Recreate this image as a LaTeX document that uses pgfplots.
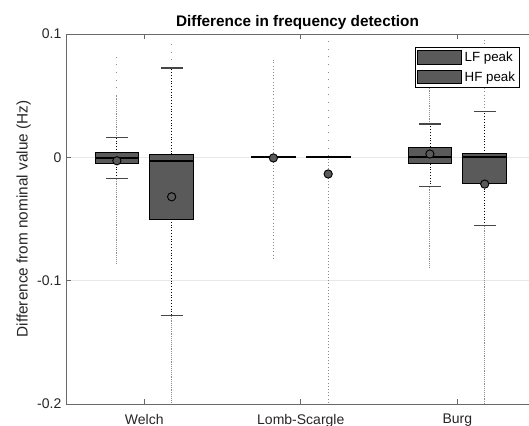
\documentclass[border=0pt]{standalone}
\usepackage{pgfplots}
\pgfplotsset{compat=1.18}
\usepackage{fontspec}
\setmainfont{Liberation Sans}
\definecolor{boxfill}{RGB}{90,90,90}
\definecolor{axgray}{RGB}{105,105,105}
\definecolor{outl}{RGB}{140,140,140}
\definecolor{capc}{RGB}{70,70,70}
\definecolor{txt}{RGB}{38,38,38}
\pgfplotsset{
  whisk/.style={black, line width=0.6pt, dash pattern=on 0.7pt off 1.4pt, forget plot},
  capl/.style={capc, line width=0.8pt, forget plot},
  odense/.style={outl, line width=0.8pt, dash pattern=on 0.6pt off 0.8pt, forget plot},
  omed/.style={outl, line width=0.8pt, dash pattern=on 0.6pt off 1.8pt, forget plot},
  osparse/.style={outl, line width=0.8pt, dash pattern=on 0.7pt off 5pt, forget plot},
  bx/.style={fill=boxfill, draw=black, line width=0.6pt, forget plot},
  med/.style={black, line width=1.3pt, forget plot},
}
\begin{document}
\begin{tikzpicture}
\begin{axis}[
  scale only axis,
  width=347.25pt, height=277.5pt,
  xmin=0.5, xmax=3.458,
  ymin=-0.2, ymax=0.1,
  axis x line*=box, axis y line*=left,
  axis line style={axgray, line width=0.6pt, -},
  tick style={axgray, line width=0.6pt},
  tick align=inside,
  major tick length=3.75pt,
  xtick={1,2,3},
  xticklabels={Welch,Lomb-Scargle,Burg},
  ytick={-0.2,-0.1,0,0.1},
  yticklabels={-0.2,-0.1,0,0.1},
  ymajorgrids,
  major grid style={gray!18, line width=0.6pt},
  tick label style={font=\fontsize{10.5}{12}\selectfont, text=txt},
  xticklabel style={yshift=-4pt},
  title={Difference in frequency detection},
  title style={font=\bfseries\fontsize{11.5}{13}\selectfont, yshift=-6.5pt},
  ylabel={Difference from nominal value (Hz)},
  ylabel style={font=\fontsize{11.5}{13}\selectfont, text=txt, yshift=-2pt},
  legend style={at={(0.9806,0.9657)}, anchor=north east, draw=black, line width=0.5pt,
    font=\fontsize{10}{11}\selectfont, inner sep=1.5pt, row sep=2pt},
  legend cell align=left,
  legend image code/.code={\draw[#1] (0pt,-5pt) rectangle (33pt,5pt);},
]
\addlegendimage{fill=boxfill, draw=black, line width=0.6pt}
\addlegendentry{LF peak}
\addlegendimage{fill=boxfill, draw=black, line width=0.6pt}
\addlegendentry{HF peak}
% outliers (Welch)
\addplot[odense] coordinates {(0.825,0.016) (0.825,0.05)};
\addplot[osparse] coordinates {(0.825,0.05) (0.825,0.085)};
\addplot[odense] coordinates {(0.825,-0.0174) (0.825,-0.087)};
\addplot[osparse] coordinates {(1.175,0.0724) (1.175,0.0925)};
\addplot[odense] coordinates {(1.175,-0.1285) (1.175,-0.2)};
% outliers (Lomb-Scargle)
\addplot[omed] coordinates {(1.825,0.001) (1.825,0.079)};
\addplot[omed] coordinates {(1.825,-0.001) (1.825,-0.0825)};
\addplot[osparse] coordinates {(2.175,0.001) (2.175,0.095)};
\addplot[omed] coordinates {(2.175,-0.001) (2.175,-0.2)};
% outliers (Burg)
\addplot[odense] coordinates {(2.825,0.027) (2.825,0.09)};
\addplot[odense] coordinates {(2.825,-0.0238) (2.825,-0.0897)};
\addplot[omed] coordinates {(3.175,0.0373) (3.175,0.095)};
\addplot[odense] coordinates {(3.175,-0.0555) (3.175,-0.2)};
% whiskers
\addplot[whisk] coordinates {(0.825,0.0037) (0.825,0.016)};
\addplot[whisk] coordinates {(0.825,-0.0052) (0.825,-0.0174)};
\addplot[whisk] coordinates {(1.175,0.0024) (1.175,0.0724)};
\addplot[whisk] coordinates {(1.175,-0.050) (1.175,-0.1285)};
\addplot[whisk] coordinates {(2.825,0.0084) (2.825,0.027)};
\addplot[whisk] coordinates {(2.825,-0.0052) (2.825,-0.0238)};
\addplot[whisk] coordinates {(3.175,0.003) (3.175,0.0373)};
\addplot[whisk] coordinates {(3.175,-0.0208) (3.175,-0.0555)};
% caps
\addplot[capl] coordinates {(0.755,0.016) (0.895,0.016)};
\addplot[capl] coordinates {(0.755,-0.0174) (0.895,-0.0174)};
\addplot[capl] coordinates {(1.105,0.0724) (1.245,0.0724)};
\addplot[capl] coordinates {(1.105,-0.1285) (1.245,-0.1285)};
\addplot[capl] coordinates {(2.105,0.0003) (2.245,0.0003)};
\addplot[capl] coordinates {(2.105,-0.0003) (2.245,-0.0003)};
\addplot[capl] coordinates {(2.755,0.027) (2.895,0.027)};
\addplot[capl] coordinates {(2.755,-0.0238) (2.895,-0.0238)};
\addplot[capl] coordinates {(3.105,0.0373) (3.245,0.0373)};
\addplot[capl] coordinates {(3.105,-0.0555) (3.245,-0.0555)};
% boxes: lower quartile, upper quartile
\addplot[bx] coordinates {(0.685,-0.0052) (0.965,-0.0052) (0.965,0.0037) (0.685,0.0037)} -- cycle;
\addplot[bx] coordinates {(1.035,-0.050) (1.315,-0.050) (1.315,0.0024) (1.035,0.0024)} -- cycle;
\addplot[bx] coordinates {(1.685,-0.0004) (1.965,-0.0004) (1.965,0.0004) (1.685,0.0004)} -- cycle;
\addplot[bx] coordinates {(2.035,-0.0004) (2.315,-0.0004) (2.315,0.0004) (2.035,0.0004)} -- cycle;
\addplot[bx] coordinates {(2.685,-0.0052) (2.965,-0.0052) (2.965,0.0084) (2.685,0.0084)} -- cycle;
\addplot[bx] coordinates {(3.035,-0.0208) (3.315,-0.0208) (3.315,0.003) (3.035,0.003)} -- cycle;
% medians
\addplot[med] coordinates {(0.685,-0.0003) (0.965,-0.0003)};
\addplot[med] coordinates {(1.035,-0.0028) (1.315,-0.0028)};
\addplot[med] coordinates {(1.685,0) (1.965,0)};
\addplot[med] coordinates {(2.035,0) (2.315,0)};
\addplot[med] coordinates {(2.685,0) (2.965,0)};
\addplot[med] coordinates {(3.035,0) (3.315,0)};
% means
\addplot[only marks, mark=*, mark size=3.1pt, mark options={fill=boxfill, draw=black, line width=0.7pt}, forget plot]
  coordinates {(0.825,-0.0028) (1.175,-0.032) (1.825,-0.0005) (2.175,-0.0135) (2.825,0.0027) (3.175,-0.0217)};
\end{axis}
\pgfresetboundingbox
\path[use as bounding box] ([xshift=-49.5pt, yshift=-16.5pt]current axis.south west) rectangle ([yshift=25.5pt]current axis.north east);
\end{tikzpicture}
\end{document}
